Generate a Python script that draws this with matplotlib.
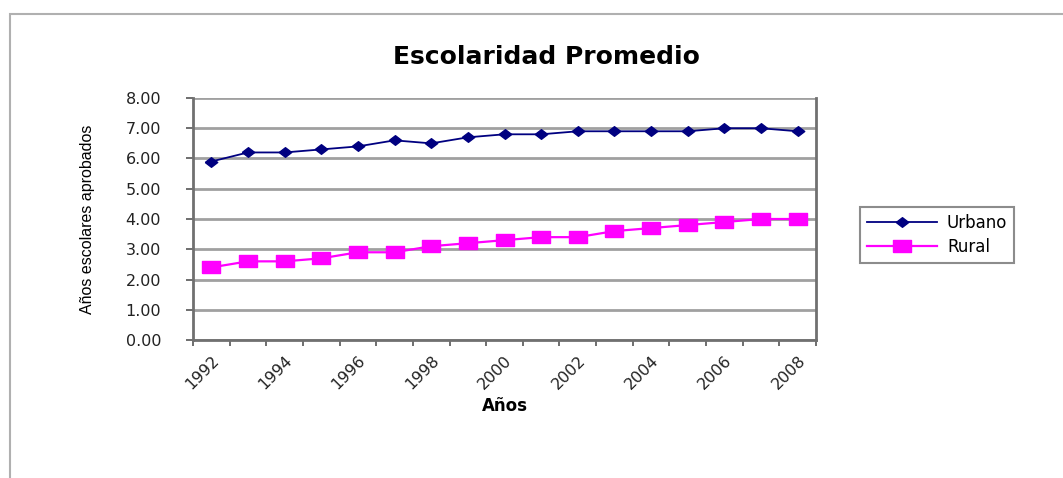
import numpy as np
import matplotlib
matplotlib.use('Agg')
import matplotlib.pyplot as plt
from matplotlib.patches import Rectangle

# data
years = list(range(1992, 2009))
urbano = [5.9, 6.2, 6.2, 6.3, 6.4, 6.6, 6.5, 6.7, 6.8, 6.8, 6.9, 6.9, 6.9, 6.9, 7.0, 7.0, 6.9]
rural = [2.4, 2.6, 2.6, 2.7, 2.9, 2.9, 3.1, 3.2, 3.3, 3.4, 3.4, 3.6, 3.7, 3.8, 3.9, 4.0, 4.0]
y_ticks = [0, 1, 2, 3, 4, 5, 6, 7, 8]

plt.rcParams['font.family'] = ['DejaVu Sans']

W, H = 1063, 478
fig = plt.figure(figsize=(W / 100, H / 100), dpi=100)

# outer chart frame
fig.patches.append(Rectangle((10 / W, -0.01), 1.1, (H - 14) / H + 0.01,
                             transform=fig.transFigure, fill=False,
                             edgecolor='#b0b0b0', linewidth=1.5))

ax = fig.add_axes([193 / W, 1 - 340 / H, (816 - 193) / W, (340 - 98) / H])

x = np.arange(len(years))

# stretched markers (the source picture is stretched horizontally)
diamond = [(-1.3, 0), (0, 1), (1.3, 0), (0, -1), (-1.3, 0)]
rect = [(-1.6, -1), (1.6, -1), (1.6, 1), (-1.6, 1), (-1.6, -1)]

ax.plot(x, urbano, color='#000080', linewidth=1.3, marker=diamond,
        markersize=9, label='Urbano')
ax.plot(x, rural, color='#ff00ff', linewidth=1.6, marker=rect,
        markersize=13, label='Rural')

ax.set_xlim(-0.5, len(years) - 0.5)
ax.set_ylim(0, 8)
ax.set_yticks(y_ticks)
ax.set_yticklabels([f'{v:.2f}' for v in y_ticks], fontsize=11.5, color='#222222')
ax.yaxis.grid(True, color='#a0a0a0', linewidth=2)
ax.set_axisbelow(True)

ax.set_xticks(x[::2])
ax.set_xticklabels([str(y) for y in years[::2]], rotation=45, ha='right',
                   rotation_mode='anchor', fontsize=11.5, color='#222222')
ax.set_xticks(np.arange(-0.5, len(years), 1), minor=True)
ax.tick_params(axis='x', which='major', length=0, pad=9)
ax.tick_params(axis='x', which='minor', length=4, width=1.2, color='#555555')
ax.tick_params(axis='y', length=5, width=1.2, color='#555555', pad=18)

for side in ['left', 'right', 'bottom']:
    ax.spines[side].set_color('#707070')
    ax.spines[side].set_linewidth(2)
ax.spines['top'].set_visible(False)

ax.set_ylabel('Años escolares aprobados', family='Liberation Sans',
              fontsize=11.5, labelpad=22)
ax.set_xlabel('Años', fontsize=12, fontweight='bold', labelpad=4)

fig.text(546 / W, 1 - 57 / H, 'Escolaridad Promedio', fontsize=18,
         fontweight='bold', ha='center', va='center')

leg = ax.legend(loc='center left', bbox_to_anchor=(852 / W, 1 - 235 / H),
                bbox_transform=fig.transFigure, fontsize=12, handlelength=4.2,
                frameon=True, fancybox=False, borderpad=0.4, labelspacing=0.4,
                handletextpad=0.6)
leg.get_frame().set_edgecolor('#707070')
leg.get_frame().set_linewidth(1.5)

fig.savefig('out.png', dpi=100)
